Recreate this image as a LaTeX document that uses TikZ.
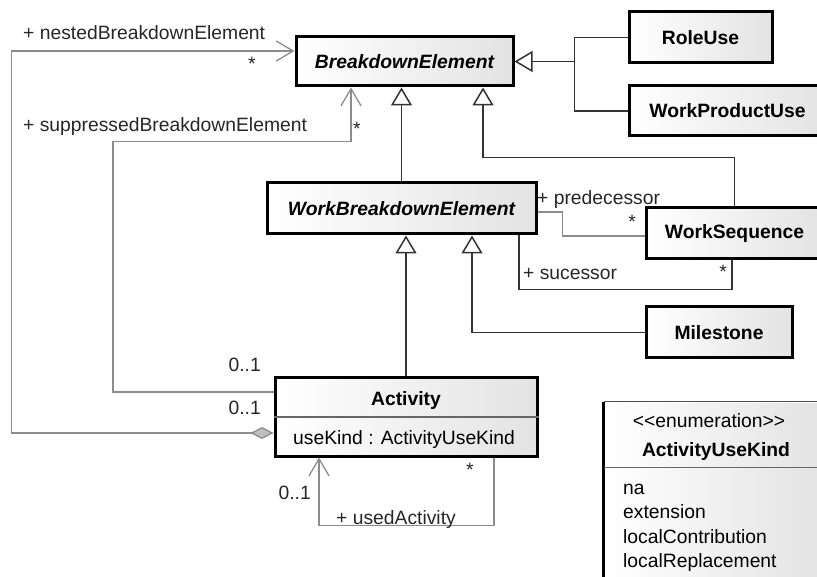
\documentclass[tikz,border=0pt]{standalone}
\usepackage{fontspec}
\setmainfont{Liberation Sans}
\usetikzlibrary{arrows.meta,calc}

\newcommand{\umlfont}{\fontsize{19.3}{23}\selectfont}

\begin{document}
\begin{tikzpicture}[x=1pt, y=-1pt,
	every node/.style={font=\umlfont},
	cls/.style={draw=black, line width=3pt, left color=white, right color=black!11, inner sep=0pt, font=\umlfont\bfseries},
	abscls/.style={cls, font=\umlfont\bfseries\itshape},
	gen/.style={draw=black!80, line width=1.5pt, -{Triangle[open, fill=white, width=21pt, length=18pt]}},
	genline/.style={draw=black!80, line width=1.5pt},
	assoc/.style={draw=black!45, line width=1.3pt},
	nav/.style={assoc, -{Straight Barb[length=17pt, width=20pt]}},
	lbl/.style={text=black!85, inner sep=0pt, anchor=base west}]
	\useasboundingbox (0,0) rectangle (817,577);
	\clip (0,0) rectangle (817,577);
	\node[abscls, minimum width=217pt, minimum height=49pt] (be) at (404.5,61.5) {BreakdownElement};
	\node[cls, minimum width=143pt, minimum height=51pt] (role) at (700.5,37.5) {RoleUse};
	\node[cls, minimum width=197pt, minimum height=50pt] (wpu) at (727.5,111) {WorkProductUse};
	\node[abscls, minimum width=269pt, minimum height=51pt] (wbe) at (401.5,208.5) {WorkBreakdownElement};
	\node[cls, minimum width=177pt, minimum height=51pt] (ws) at (734.5,233.5) {WorkSequence};
	\node[cls, minimum width=146pt, minimum height=51pt] (mile) at (719,332.5) {Milestone};
	\node[cls, minimum width=262pt, minimum height=78pt] (act) at (406,417) {};
	\draw[black!60, line width=1.5pt] (act.west) -- (act.east);
	\node[anchor=base, font=\umlfont\bfseries] (actname) at (406,406) {Activity};
	\node[anchor=base west, inner sep=0pt] (actattr) at (293,444) {useKind : ActivityUseKind};
	\node[cls, draw=none, minimum width=218pt, minimum height=190pt] (enum) at (714,498) {};
	\draw[line width=3pt] (enum.north west) -- (enum.south west);
	\draw[black!70, line width=1.5pt] (enum.north west) -- (enum.north east);
	\draw[black!60, line width=1.5pt] ($(enum.north west)+(0,66)$) -- ($(enum.north east)+(0,66)$);
	\node[anchor=base] (enumstereo) at (709,427) {<\kern0pt<enumeration>\kern0pt>};
	\node[anchor=base, font=\umlfont\bfseries] (enumname) at (716,456) {ActivityUseKind};
	\node[anchor=base west, inner sep=0pt] (lit1) at (623,494) {na};
	\node[anchor=base west, inner sep=0pt] (lit2) at (623,518) {extension};
	\node[anchor=base west, inner sep=0pt] (lit3) at (623,543) {localContribution};
	\node[anchor=base west, inner sep=0pt] (lit4) at (623,567) {localReplacement};
	\draw[gen] (wbe.north) -- (wbe.north |- be.south);
	\draw[gen] (ws.north) |- ($(be.south)+(78.5,70)$) -- ($(be.south)+(78.5,0)$);
	\draw[gen] (role.west) -| ($(be.east)+(60,0)$) -- (be.east);
	\draw[genline] (wpu.west) -| ($(be.east)+(60,0)$);
	\draw[gen] (act.north) -- (act.north |- wbe.south);
	\draw[gen] (mile.west) -| ($(wbe.south)+(70.5,0)$);
	\draw[assoc, {Diamond[fill=black!25, length=23pt, width=12pt]}-{Straight Barb[length=17pt, width=20pt]}] ($(act.west)+(0,16)$) -| ($(be.west)+(-283,-10.5)$) -- ($(be.west)+(0,-10.5)$);
	\draw[nav] ($(act.west)+(0,-25)$) -| ($(be.south)+(-291.5,54)$) -| ($(be.south)+(-53.5,0)$);
	\draw[assoc] ($(wbe.east)+(0,3.5)$) -| ($(ws.west)+(-82,2.5)$) -- ($(ws.west)+(0,2.5)$);
	\draw[assoc, draw=black!80] ($(wbe.south)+(117.5,0)$) |- ($(ws.south)+(-2.5,29)$) -- ($(ws.south)+(-2.5,0)$);
	\draw[nav] ($(act.south)+(88,0)$) |- ($(act.south)+(-87,68)$) -- ($(act.south)+(-87,0)$);
	\node[lbl] (nestedlbl) at (23,40) {+ nestedBreakdownElement};
	\node[lbl, anchor=base] (nestedmul) at (252,71) {*};
	\node[lbl] (supplbl) at (23,132) {+ suppressedBreakdownElement};
	\node[lbl, anchor=base] (suppmul) at (357,136) {*};
	\node[lbl, anchor=base east] (suppzero) at (261,371) {0..1};
	\node[lbl, anchor=base east] (nestedzero) at (261,414) {0..1};
	\node[lbl] (predlbl) at (537,205) {+ predecessor};
	\node[lbl, anchor=base] (predmul) at (632,229) {*};
	\node[lbl] (suclbl) at (523,280) {+ sucessor};
	\node[lbl, anchor=base] (sucmul) at (723,279) {*};
	\node[lbl] (usedlbl) at (336,524) {+ usedActivity};
	\node[lbl, anchor=base east] (usedzero) at (311,499) {0..1};
	\node[lbl, anchor=base] (usedmul) at (470,476) {*};
\end{tikzpicture}
\end{document}
